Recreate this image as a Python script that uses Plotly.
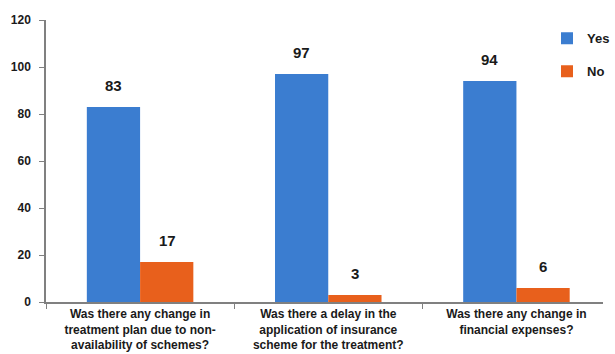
import plotly.graph_objects as go

categories = [
    "Was there any change in<br>treatment plan due to non-<br>availability of schemes?",
    "Was there a delay in the<br>application of insurance<br>scheme for the treatment?",
    "Was there any change in<br>financial expenses?",
]
yes_values = [83, 97, 94]
no_values = [17, 3, 6]
y_ticks = [0, 20, 40, 60, 80, 100, 120]

FONT = "Liberation Sans, Arial, sans-serif"
BLUE = "#3b7dd0"
ORANGE = "#e8601c"

fig = go.Figure()
fig.add_trace(go.Bar(name="<b>Yes</b>", x=categories, y=yes_values, marker_color=BLUE,
                     marker_line_width=0, legendgroup="yes"))
fig.add_trace(go.Bar(name="<b>No</b>", x=categories, y=no_values, marker_color=ORANGE,
                     marker_line_width=0, legendgroup="no"))

for vals, shift in ((yes_values, -27), (no_values, 27)):
    for c, v in zip(categories, vals):
        fig.add_annotation(x=c, y=v, xref="x", yref="y", text=f"<b>{v}</b>", showarrow=False,
                           xshift=shift, yshift=11, yanchor="bottom",
                           font=dict(family=FONT, size=15, color="#1a1a1a"))

fig.update_layout(
    width=615, height=354,
    margin=dict(l=46, r=0, t=20, b=52),
    paper_bgcolor="white", plot_bgcolor="white",
    barmode="group", bargap=0.434, bargroupgap=0,
    font=dict(family=FONT, color="#1a1a1a"),
    showlegend=True,
    legend=dict(x=0.9, y=0.988, xanchor="left", yanchor="top",
                font=dict(family=FONT, size=13, color="#1a1a1a"),
                tracegroupgap=13, itemwidth=30,
                bgcolor="rgba(0,0,0,0)"),
)
fig.update_xaxes(
    range=[-0.5, 2.46], showline=True, linecolor="#808080", linewidth=1.5,
    ticks="outside", tickson="boundaries", ticklen=5, tickcolor="#808080",
    tickvals=categories, ticktext=[f"<b>{c}</b>" for c in categories],
    tickangle=0, automargin=False,
    tickfont=dict(family=FONT, size=12, color="#1a1a1a"), showgrid=False,
)
fig.update_yaxes(
    range=[0, 120], tickvals=y_ticks, ticktext=[f"<b>{t}</b>" for t in y_ticks],
    showline=True, linecolor="#808080", linewidth=1.5,
    ticks="outside", ticklen=5, tickcolor="#808080", showgrid=False, zeroline=False,
    tickfont=dict(family=FONT, size=12, color="#1a1a1a"), ticklabelstandoff=6,
)
fig.write_html("out.html")
